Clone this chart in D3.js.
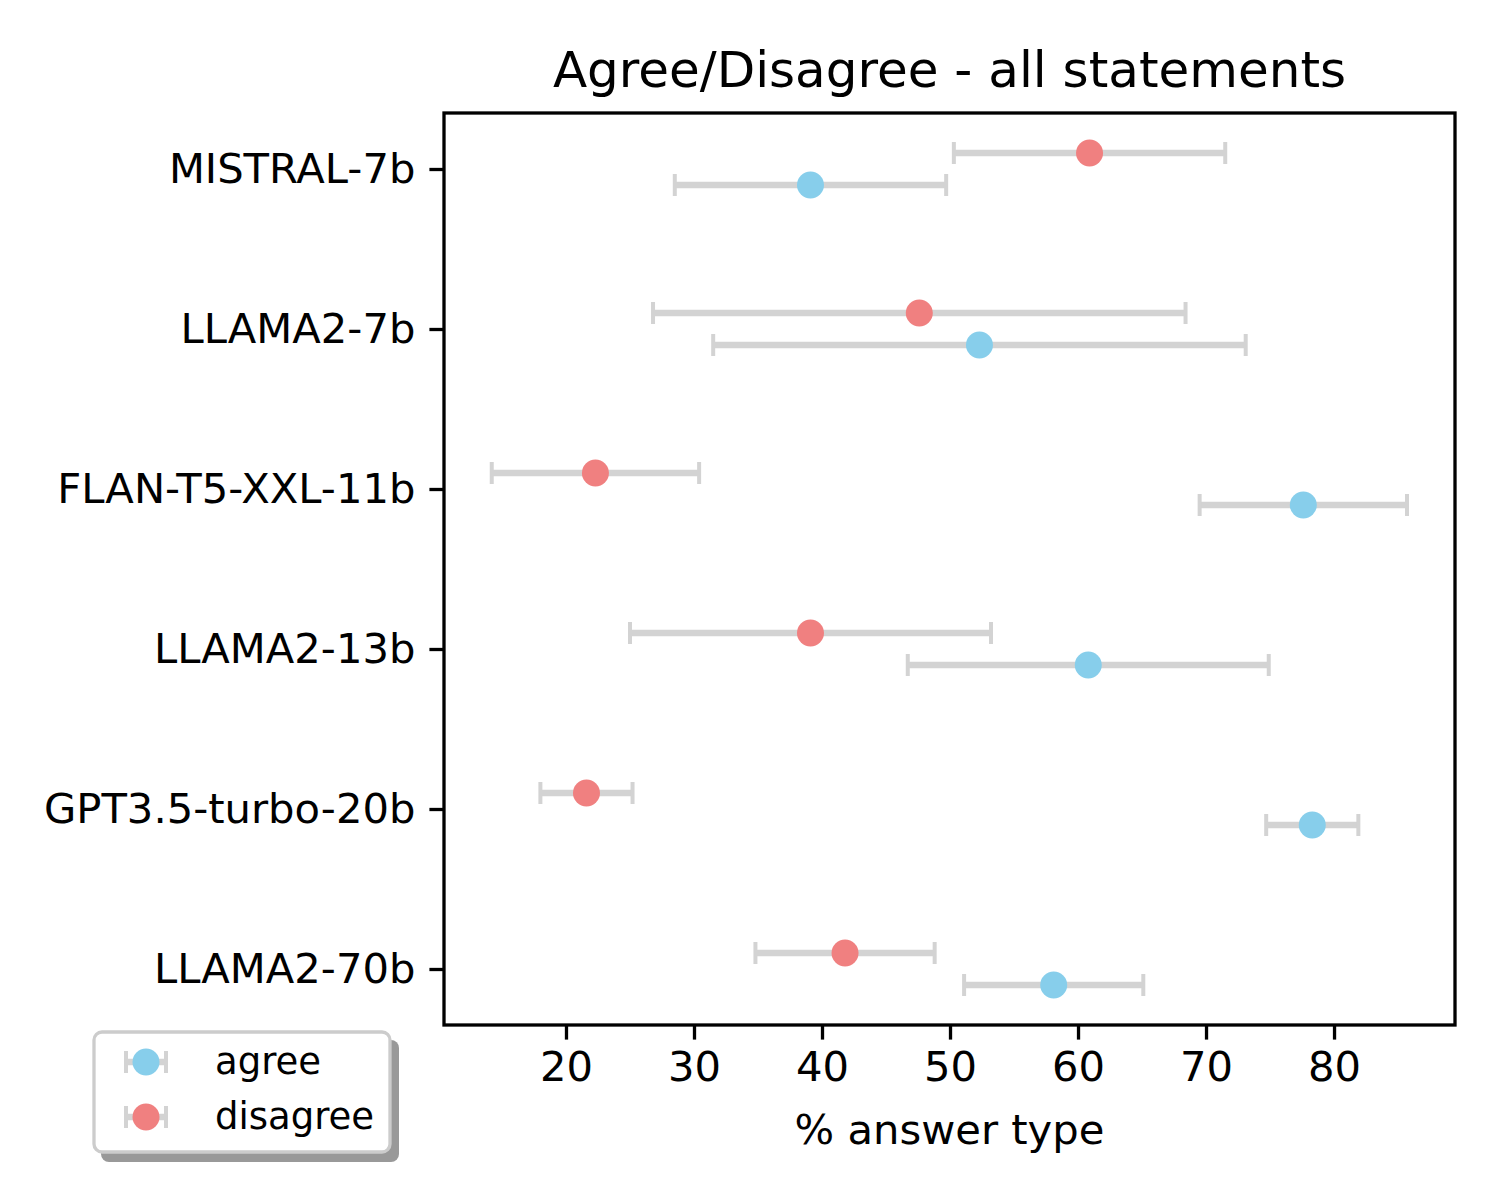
<!DOCTYPE html>
<html>
<head>
<meta charset="utf-8">
<script src="https://cdn.jsdelivr.net/npm/d3@7"></script>
<style>
  body { margin: 0; background: #fff; }
  svg { font-family: "DejaVu Sans", sans-serif; }
</style>
</head>
<body>
<div id="chart"></div>
<script>
// data
const models = ["MISTRAL-7b", "LLAMA2-7b", "FLAN-T5-XXL-11b", "LLAMA2-13b", "GPT3.5-turbo-20b", "LLAMA2-70b"];
const agreeMean = [39.1, 52.3, 77.6, 60.8, 78.3, 58.1];
const agreeErr = [10.6, 20.8, 8.1, 14.1, 3.6, 7.0];
const disagreeMean = [60.9, 47.6, 22.3, 39.1, 21.6, 41.8];
const disagreeErr = [10.6, 20.8, 8.1, 14.1, 3.6, 7.0];
const xTicks = [20, 30, 40, 50, 60, 70, 80];

const W = 1500, H = 1200;
const plotL = 444, plotR = 1455, plotT = 113, plotB = 1025;

const svg = d3.select("#chart").append("svg")
    .attr("width", W)
    .attr("height", H);

const x = d3.scaleLinear().domain([10.47, 89.45]).range([plotL, plotR]);
const y = d3.scaleLinear().domain([-0.35, 5.35]).range([plotT, plotB]);

const series = [
    { name: "agree", mean: agreeMean, err: agreeErr, colour: "#87CEEB", off: 0.1 },
    { name: "disagree", mean: disagreeMean, err: disagreeErr, colour: "#F08080", off: -0.1 }
];

const errColour = "#D3D3D3";
const capH = 11;

// error bars + points
series.forEach(s => {
    const g = svg.append("g");
    models.forEach((m, i) => {
        const cy = y(i + s.off);
        const lo = x(s.mean[i] - s.err[i]);
        const hi = x(s.mean[i] + s.err[i]);
        g.append("line")
            .attr("x1", lo).attr("x2", hi)
            .attr("y1", cy).attr("y2", cy)
            .attr("stroke", errColour)
            .attr("stroke-width", 6.5);
        [lo, hi].forEach(cx => {
            g.append("line")
                .attr("x1", cx).attr("x2", cx)
                .attr("y1", cy - capH).attr("y2", cy + capH)
                .attr("stroke", errColour)
                .attr("stroke-width", 4);
        });
        g.append("circle")
            .attr("cx", x(s.mean[i]))
            .attr("cy", cy)
            .attr("r", 13.5)
            .attr("fill", s.colour);
    });
});

// axes
const xAxis = svg.append("g")
    .attr("transform", `translate(0, ${plotB})`)
    .call(d3.axisBottom(x).tickValues(xTicks).tickSize(14.6).tickPadding(12));

const yAxis = svg.append("g")
    .attr("transform", `translate(${plotL}, 0)`)
    .call(d3.axisLeft(y).tickValues(d3.range(models.length)).tickFormat(i => models[i]).tickSize(14.6).tickPadding(14));

[xAxis, yAxis].forEach(a => {
    a.select(".domain").remove();
    a.selectAll(".tick line").attr("stroke", "#000").attr("stroke-width", 3.3);
    a.selectAll(".tick text")
        .attr("font-family", "DejaVu Sans")
        .attr("font-size", 41.7)
        .attr("fill", "#000");
});

// frame
svg.append("rect")
    .attr("x", plotL).attr("y", plotT)
    .attr("width", plotR - plotL).attr("height", plotB - plotT)
    .attr("fill", "none")
    .attr("stroke", "#000")
    .attr("stroke-width", 3.3);

// title and label
svg.append("text")
    .attr("x", (plotL + plotR) / 2).attr("y", 87)
    .attr("text-anchor", "middle")
    .attr("font-size", 50)
    .text("Agree/Disagree - all statements");

svg.append("text")
    .attr("x", (plotL + plotR) / 2).attr("y", 1144)
    .attr("text-anchor", "middle")
    .attr("font-size", 41.7)
    .text("% answer type");

// legend
const lg = svg.append("g");
lg.append("rect")
    .attr("x", 101).attr("y", 1040)
    .attr("width", 298).attr("height", 122)
    .attr("rx", 8)
    .attr("fill", "#999");
lg.append("rect")
    .attr("x", 94).attr("y", 1032)
    .attr("width", 296).attr("height", 120)
    .attr("rx", 8)
    .attr("fill", "#fff")
    .attr("stroke", "#ccc")
    .attr("stroke-width", 3.3);

series.forEach((s, i) => {
    const ly = 1062 + i * 55;
    lg.append("line")
        .attr("x1", 126).attr("x2", 166)
        .attr("y1", ly).attr("y2", ly)
        .attr("stroke", errColour).attr("stroke-width", 6.5);
    [126, 166].forEach(cx => {
        lg.append("line")
            .attr("x1", cx).attr("x2", cx)
            .attr("y1", ly - capH).attr("y2", ly + capH)
            .attr("stroke", errColour).attr("stroke-width", 4);
    });
    lg.append("circle")
        .attr("cx", 146).attr("cy", ly)
        .attr("r", 13.5)
        .attr("fill", s.colour);
    lg.append("text")
        .attr("x", 215).attr("y", ly + 12)
        .attr("font-size", 37)
        .text(s.name);
});
</script>
</body>
</html>
